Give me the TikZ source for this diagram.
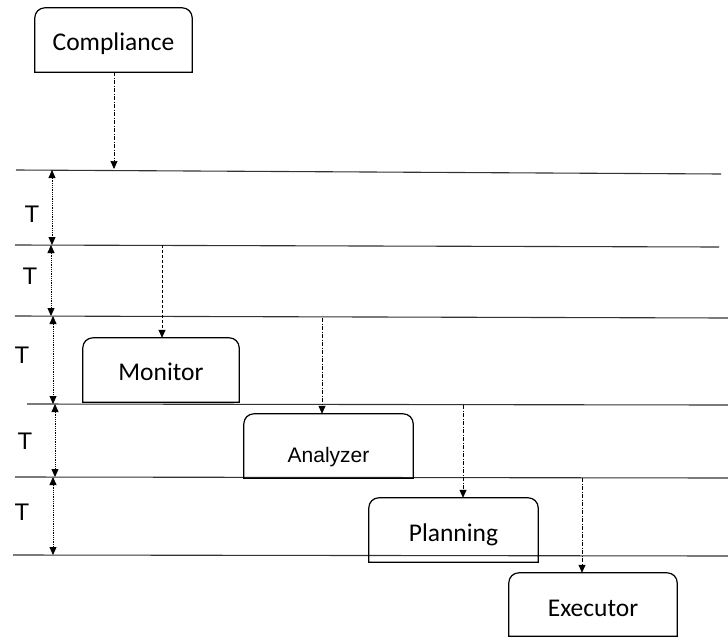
\documentclass[tikz,border=0pt]{standalone}
\usepackage{fontspec}
\setmainfont{Carlito}
\newfontfamily\arialfont{Liberation Sans}
\usetikzlibrary{arrows.meta}

% box with rounded top corners and square bottom corners
\newcommand{\topbox}[1]{%
  \draw[boxline] (#1.south west) -- ([yshift=-10pt]#1.north west)
    arc[start angle=180,end angle=90,radius=10pt]
    -- ([xshift=-10pt]#1.north east)
    arc[start angle=90,end angle=0,radius=10pt]
    -- (#1.south east) -- cycle;}
% text whose baseline sits #1 below the middle of its box
\newcommand{\lowered}[2]{\raisebox{-#1}[0pt][0pt]{#2}}

\begin{document}
\begin{tikzpicture}[x=1pt,y=-1pt,
  boxlabel/.style={rectangle,inner sep=0pt,font=\fontsize{25.5}{28}\selectfont},
  boxline/.style={line width=1.2pt,black},
  level/.style={line width=1.1pt,black!80},
  tip/.style={-{Triangle[length=8pt,width=7pt]}},
  flow/.style={tip,line width=0.7pt,dash pattern=on 4pt off 1.5pt on 1pt off 1.5pt},
  flowdash/.style={tip,line width=0.7pt,dash pattern=on 3pt off 2pt},
  period/.style={{Triangle[length=8pt,width=7pt]}-{Triangle[length=8pt,width=7pt]},
    line width=0.8pt,densely dotted},
  tlabel/.style={font=\arialfont\fontsize{24}{26}\selectfont,inner sep=0pt}]
\useasboundingbox (0,0) rectangle (728,637);

% time levels
\coordinate (L1a) at (16,170);  \coordinate (L1b) at (721,174);
\coordinate (L2a) at (15,245);  \coordinate (L2b) at (719,247);
\coordinate (L3a) at (15,316);  \coordinate (L3b) at (728,318);
\coordinate (L4a) at (27,404);  \coordinate (L4b) at (728,405);
\coordinate (L5a) at (15,477);  \coordinate (L5b) at (728,478);
\coordinate (L6a) at (13,555);  \coordinate (L6b) at (728,556);
\foreach \i in {1,...,6} \draw[level] (L\i a) -- (L\i b);

% components
\node[boxlabel,minimum width=157pt,minimum height=64pt] (comp) at (113.5,40) {\lowered{10pt}{Compliance}};
\node[boxlabel,minimum width=156pt,minimum height=64pt] (mon) at (161,370) {\lowered{10pt}{Monitor}};
\node[boxlabel,minimum width=169pt,minimum height=64pt,font=\arialfont\fontsize{21}{24}\selectfont] (ana) at (328.5,446) {\lowered{16pt}{Analyzer}};
\node[boxlabel,minimum width=169pt,minimum height=64pt] (plan) at (453.5,530) {\lowered{11pt}{Planning}};
\node[boxlabel,minimum width=168pt,minimum height=63pt] (exe) at (593,604.5) {\lowered{11.5pt}{Executor}};
\foreach \n in {comp,mon,ana,plan,exe} \topbox{\n};

% triggers
\coordinate (c1) at (114,169);
\coordinate (c2) at (162,245);
\coordinate (c3) at (322,318);
\coordinate (c4) at (463,405);
\coordinate (c5) at (582,478);
\draw[flow] (comp.south -| c1) -- (c1);
\draw[flowdash] (c2) -- (c2 |- mon.north);
\draw[flow] (c3) -- (c3 |- ana.north);
\draw[flow] (c4) -- (c4 |- plan.north);
\draw[flow] (c5) -- (c5 |- exe.north);

% periods
\coordinate (p1a) at (52,170); \coordinate (p1b) at (52,245);
\coordinate (p2a) at (51,245); \coordinate (p2b) at (51,316);
\coordinate (p3a) at (53,316); \coordinate (p3b) at (53,404);
\coordinate (p4a) at (55,404); \coordinate (p4b) at (55,477);
\coordinate (p5a) at (53,477); \coordinate (p5b) at (53,555);
\foreach \i in {1,...,5} \draw[period] (p\i a) -- (p\i b);

\node[tlabel] (t1) at (32,214) {T};
\node[tlabel] (t2) at (30,276) {T};
\node[tlabel] (t3) at (22,355) {T};
\node[tlabel] (t4) at (25,441) {T};
\node[tlabel] (t5) at (22,512) {T};
\end{tikzpicture}
\end{document}
